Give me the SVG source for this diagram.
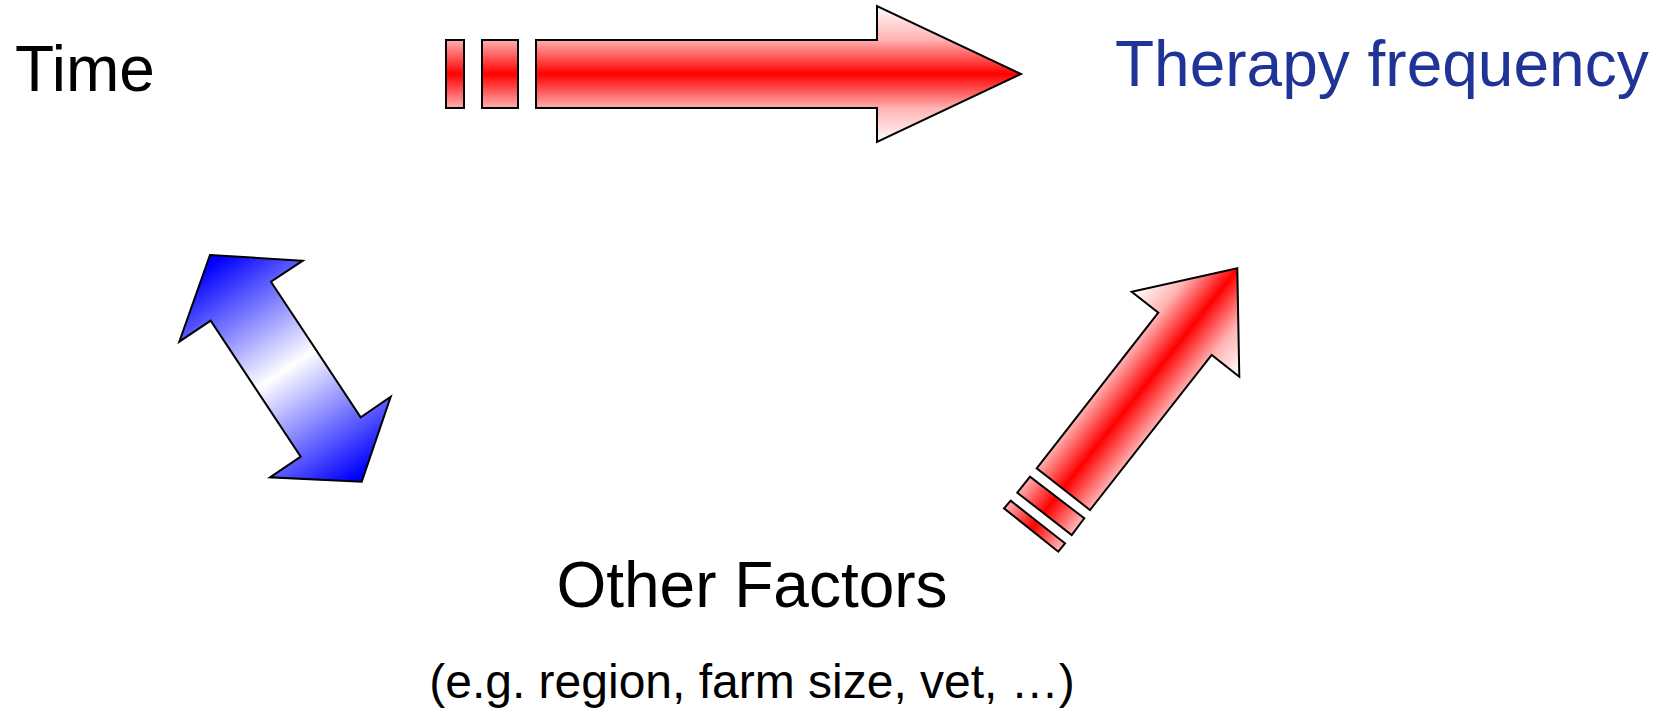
<svg xmlns="http://www.w3.org/2000/svg" width="1662" height="708" viewBox="0 0 1662 708">
  <style>
    .lbl { font-family: "Liberation Sans", Arial, sans-serif; fill: #000; }
    .shape { stroke: #000; stroke-width: 2; stroke-linejoin: miter; }
  </style>
  <defs>
    <linearGradient id="gTop" gradientUnits="userSpaceOnUse" x1="0" y1="5" x2="0" y2="143">
      <stop offset="0" stop-color="#ffffff"/>
      <stop offset="0.25" stop-color="#ffb3b3"/>
      <stop offset="0.5" stop-color="#ff0000"/>
      <stop offset="0.75" stop-color="#ffb3b3"/>
      <stop offset="1" stop-color="#ffffff"/>
    </linearGradient>
    <linearGradient id="gDiag" gradientUnits="userSpaceOnUse" x1="1132" y1="292" x2="1239" y2="377">
      <stop offset="0" stop-color="#ffffff"/>
      <stop offset="0.25" stop-color="#ffb3b3"/>
      <stop offset="0.5" stop-color="#ff0000"/>
      <stop offset="0.75" stop-color="#ffb3b3"/>
      <stop offset="1" stop-color="#ffffff"/>
    </linearGradient>
    <linearGradient id="gBlue" gradientUnits="userSpaceOnUse" x1="215" y1="262" x2="358" y2="476">
      <stop offset="0" stop-color="#0000ff"/>
      <stop offset="0.5" stop-color="#ffffff"/>
      <stop offset="1" stop-color="#0000ff"/>
    </linearGradient>
  </defs>

  <g id="time">
    <text class="lbl" x="15" y="91" font-size="64">Time</text>
  </g>
  <g id="therapy-frequency">
    <text class="lbl" x="1115" y="86" font-size="64" style="fill:#203396">Therapy frequency</text>
  </g>
  <g id="other-factors">
    <text class="lbl" x="752" y="607" font-size="64" text-anchor="middle">Other Factors</text>
    <text class="lbl" x="752" y="698" font-size="48" text-anchor="middle">(e.g. region, farm size, vet, …)</text>
  </g>

  <g id="connectors">
    <g id="arrow-time-therapy">
      <rect class="shape" x="446" y="40" width="18" height="68" fill="url(#gTop)"/>
      <rect class="shape" x="482" y="40" width="36" height="68" fill="url(#gTop)"/>
      <polygon class="shape" points="536,40 877,40 877,6 1021,74 877,142 877,108 536,108" fill="url(#gTop)"/>
    </g>
    <g id="arrow-time-other">
      <polygon class="shape" points="210,255 302.7,260.7 271,281.7 360.7,417.3 390.7,396.7 361.7,481.7 270,477.3 300.7,456.7 210.7,320.7 179.3,341.7" fill="url(#gBlue)"/>
    </g>
    <g id="arrow-other-therapy">
      <polygon class="shape" points="1004,508.3 1010.7,500.7 1065,543.3 1058.3,551.7" fill="url(#gDiag)"/>
      <polygon class="shape" points="1017.3,492.7 1030,476.7 1084.3,518.3 1071.7,535" fill="url(#gDiag)"/>
      <polygon class="shape" points="1036.7,468.3 1158.3,312.7 1131.7,291.7 1237.3,268.3 1239.3,376.7 1211.7,355 1090,510" fill="url(#gDiag)"/>
    </g>
  </g>
</svg>
